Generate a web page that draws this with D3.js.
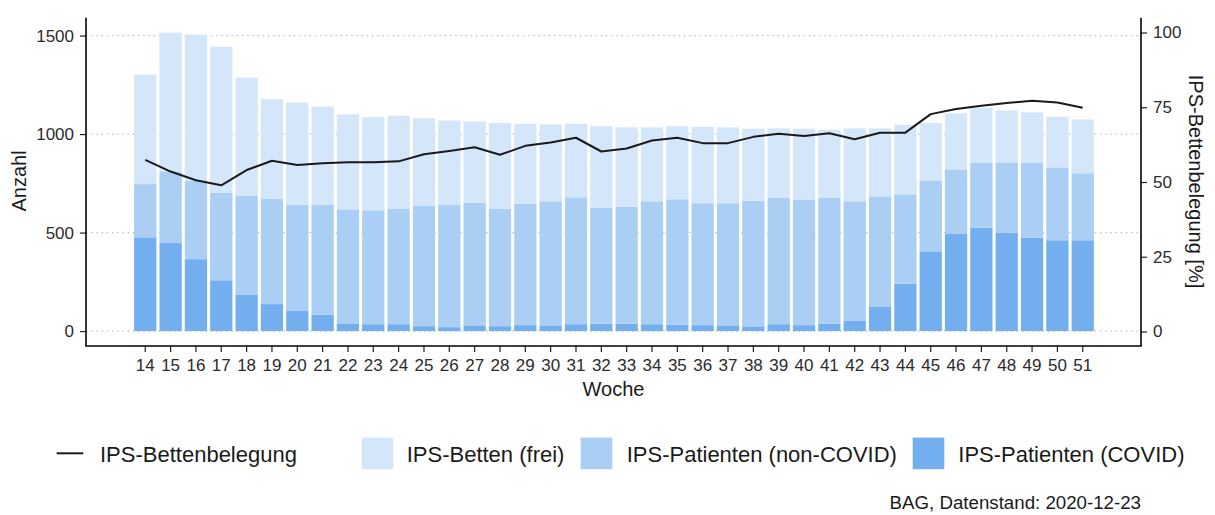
<!DOCTYPE html>
<html>
<head>
<meta charset="utf-8">
<script src="https://cdn.jsdelivr.net/npm/d3@7"></script>
<style>
  html, body { margin: 0; padding: 0; background: #fff; }
  svg { display: block; font-family: "Liberation Sans", Arial, Helvetica, sans-serif; }
</style>
</head>
<body>
<svg id="chart" width="1215" height="515"></svg>
<script>
// ---------- data ----------
const weeks = [14,15,16,17,18,19,20,21,22,23,24,25,26,27,28,29,30,31,32,33,34,35,36,37,38,39,40,41,42,43,44,45,46,47,48,49,50,51];
const covid = [476,447,365,258,186,137,105,83,39,35,35,25,20,29,25,30,29,35,37,37,35,32,30,29,24,35,30,37,54,125,240,405,493,525,500,473,461,461];
const nonCovid = [270,364,399,445,502,535,535,557,579,578,585,610,620,623,595,615,630,644,588,595,624,637,619,620,638,641,638,639,605,559,454,360,328,328,353,380,370,340];
const free = [556,704,741,740,598,505,520,500,482,473,473,446,429,412,436,407,390,373,415,402,375,371,388,385,365,353,359,346,370,345,353,291,284,281,267,257,257,273];
const occupancy = [57.4,53.5,50.6,48.9,54.0,57.1,55.7,56.3,56.6,56.6,56.9,59.3,60.4,61.6,59.1,62.1,63.2,64.8,60.2,61.2,63.9,64.8,63.0,63.0,65.1,66.1,65.4,66.3,64.3,66.5,66.5,72.7,74.4,75.5,76.4,77.2,76.6,74.8];
const leftTicks = [0, 500, 1000, 1500];
const rightTicks = [0, 25, 50, 75, 100];
const seriesKeys = ["covid", "nonCovid", "free"];
const seriesLabels = ["IPS-Patienten (COVID)", "IPS-Patienten (non-COVID)", "IPS-Betten (frei)"];
const lineLabel = "IPS-Bettenbelegung";
const xTitle = "Woche", yTitle = "Anzahl", y2Title = "IPS-Bettenbelegung [%]";
const caption = "BAG, Datenstand: 2020-12-23";

// ---------- layout ----------
const colors = { covid: "#73AEEE", nonCovid: "#AACEF4", free: "#D4E6FA" };
const panel = { left: 86, right: 1141, top: 17.7, bottom: 346 };

const svg = d3.select("#chart");

const rows = weeks.map((w, i) => ({ week: w, covid: covid[i], nonCovid: nonCovid[i], free: free[i], occ: occupancy[i] }));

const x = d3.scaleBand().domain(weeks).range([132.6, 1095.4]).paddingInner(0.12).paddingOuter(0.06);
const y = d3.scaleLinear().domain([-75.75, 1590.75]).range([panel.bottom, panel.top]);
const y2 = d3.scaleLinear().domain([0, 100]).range([331.5, 32.5]);

// gridlines
svg.append("g").selectAll("line").data(leftTicks).join("line")
  .attr("x1", panel.left).attr("x2", panel.right)
  .attr("y1", d => y(d)).attr("y2", d => y(d))
  .attr("stroke", "#bdbdbd").attr("stroke-width", 1.4)
  .attr("stroke-dasharray", "1.4 3.8");

// stacked bars
const stack = d3.stack().keys(seriesKeys)(rows);
svg.append("g").selectAll("g").data(stack).join("g")
  .attr("fill", d => colors[d.key])
  .selectAll("rect").data(d => d).join("rect")
  .attr("x", d => x(d.data.week))
  .attr("width", x.bandwidth())
  .attr("y", d => y(d[1]))
  .attr("height", d => y(d[0]) - y(d[1]));

// occupancy line
const cx = w => x(w) + x.bandwidth() / 2;
svg.append("path").datum(rows)
  .attr("fill", "none").attr("stroke", "#1a1a1a").attr("stroke-width", 2).attr("stroke-linejoin", "round")
  .attr("d", d3.line().x(d => cx(d.week)).y(d => y2(d.occ)));

// axes
function styleAxis(g) {
  g.selectAll(".tick line").attr("stroke", "#222").attr("stroke-width", 1.2);
  g.selectAll(".tick text").attr("fill", "#2b2b2b").style("font-size", "17px").style("font-family", "Liberation Sans, Arial, sans-serif");
}
const gl = svg.append("g").attr("transform", `translate(${panel.left},0)`)
  .call(d3.axisLeft(y).tickValues(leftTicks).tickFormat(d3.format("d")).tickSize(6).tickSizeOuter(0).tickPadding(6));
gl.select(".domain").remove(); styleAxis(gl);

const gr = svg.append("g").attr("transform", `translate(${panel.right},0)`)
  .call(d3.axisRight(y2).tickValues(rightTicks).tickFormat(d3.format("d")).tickSize(6).tickSizeOuter(0).tickPadding(6));
gr.select(".domain").remove(); styleAxis(gr);

const gb = svg.append("g").attr("transform", `translate(0,${panel.bottom})`)
  .call(d3.axisBottom(x).tickSize(6).tickSizeOuter(0).tickPadding(7));
gb.select(".domain").remove(); styleAxis(gb);

// panel axis lines
const axisLine = (x1, y1, x2, y2_) => svg.append("line").attr("x1", x1).attr("y1", y1).attr("x2", x2).attr("y2", y2_)
  .attr("stroke", "#000").attr("stroke-width", 1.6);
axisLine(panel.left, panel.top, panel.left, panel.bottom);
axisLine(panel.right, panel.top, panel.right, panel.bottom);
axisLine(panel.left - 0.8, panel.bottom, panel.right + 0.8, panel.bottom);

// titles
svg.append("text").attr("x", (panel.left + panel.right) / 2).attr("y", 396)
  .attr("text-anchor", "middle").style("font-size", "20px").attr("fill", "#1a1a1a").text(xTitle);
svg.append("text").attr("transform", "translate(26,181) rotate(-90)")
  .attr("text-anchor", "middle").style("font-size", "20px").attr("fill", "#1a1a1a").text(yTitle);
svg.append("text").attr("transform", "translate(1189,181.5) rotate(90)")
  .attr("text-anchor", "middle").style("font-size", "20px").attr("fill", "#1a1a1a").text(y2Title);

// legend
const lg = svg.append("g");
lg.append("line").attr("x1", 56.7).attr("x2", 83.3).attr("y1", 453.3).attr("y2", 453.3)
  .attr("stroke", "#1a1a1a").attr("stroke-width", 2);
lg.append("text").attr("x", 100).attr("y", 462).style("font-size", "22px").attr("fill", "#1a1a1a").text(lineLabel);
const legendItems = [
  { key: "free", label: seriesLabels[2], sx: 361.7, tx: 406.7 },
  { key: "nonCovid", label: seriesLabels[1], sx: 580.7, tx: 626.7 },
  { key: "covid", label: seriesLabels[0], sx: 912.7, tx: 958.3 }
];
legendItems.forEach(it => {
  lg.append("rect").attr("x", it.sx).attr("y", 437.6).attr("width", 31.6).attr("height", 31.6).attr("fill", colors[it.key]);
  lg.append("text").attr("x", it.tx).attr("y", 462).style("font-size", "22px").attr("fill", "#1a1a1a").text(it.label);
});

// caption
svg.append("text").attr("x", panel.right).attr("y", 509).attr("text-anchor", "end")
  .style("font-size", "18.7px").attr("fill", "#1a1a1a").text(caption);
</script>
</body>
</html>
